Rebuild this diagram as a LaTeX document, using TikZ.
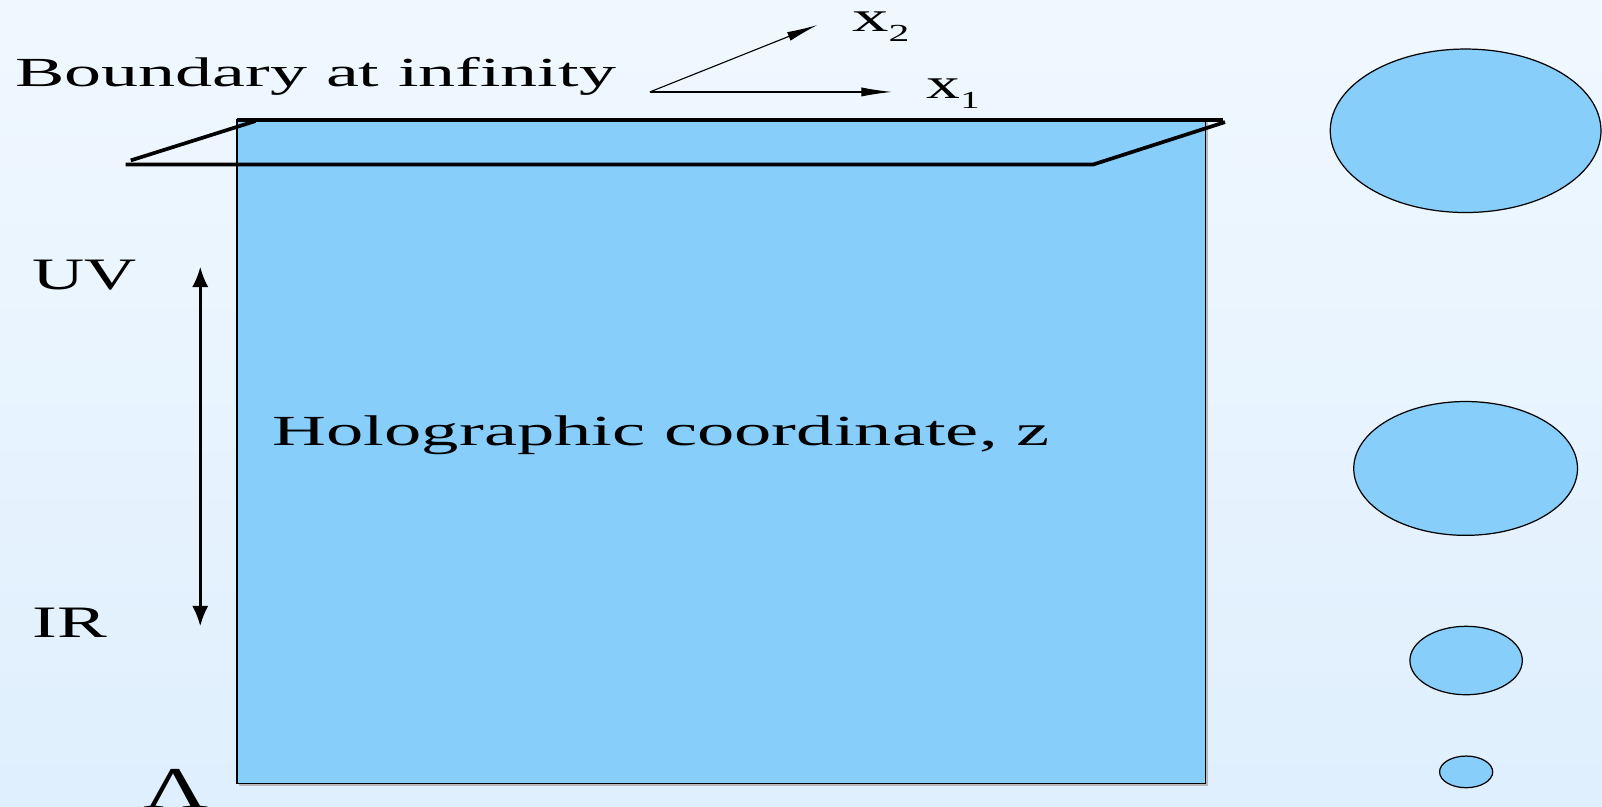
\documentclass[tikz,border=0pt]{standalone}
\usepackage{fontspec}
\setmainfont{Liberation Serif}
\usepackage{graphicx}
\usetikzlibrary{arrows.meta,shapes.geometric}
\definecolor{bgtop}{RGB}{240,248,255}
\definecolor{bgbot}{RGB}{223,239,253}
\definecolor{sky}{RGB}{135,206,250}
\newcommand{\wtext}[3]{\resizebox{#1pt}{\height}{\fontsize{#2}{#2}\selectfont #3}}
\tikzset{
  txt/.style={inner sep=0pt, outer sep=0pt, anchor=base west},
  ell/.style={draw=black, fill=sky, ellipse, inner sep=0pt, line width=1.2pt},
  heavy/.style={line width=3.6pt, line cap=butt},
  axisarrow/.style={-{Latex[length=30pt,width=9pt]}, line width=1.1pt},
  zarrow/.style={{Latex[length=20pt,width=16pt]}-{Latex[length=20pt,width=16pt]}, line width=2.8pt}
}
\begin{document}
\begin{tikzpicture}[x=1pt,y=-1pt]
\useasboundingbox (0,0) rectangle (1568,789);
\clip (0,0) rectangle (1568,789);
\shade[top color=bgtop,bottom color=bgbot] (0,0) rectangle (1568,789);
% bulk
\fill[gray!55] (234,119) rectangle (1182.5,769.5);
\filldraw[fill=sky, draw=black, line width=1.3pt] (232,117) rectangle (1180,767);
% boundary plane
\draw[heavy] (232,117.5) -- (1197,117.5);
\draw[heavy] (128,157) -- (250,118.5);
\draw[heavy] (123,161) -- (1070,161) -- (1199,119.5);
% axes
\coordinate (o) at (636,90);
\coordinate (e1) at (873,90);
\coordinate (e2) at (800,24.5);
\draw[axisarrow] (o) -- (e1);
\draw[axisarrow] (o) -- (e2);
\node[txt] (x2) at (834,31) {\wtext{56}{42}{x\raisebox{-10pt}{\fontsize{24}{24}\selectfont 2}}};
\node[txt] (x1) at (907,96) {\wtext{52}{42}{x\raisebox{-10pt}{\fontsize{24}{24}\selectfont 1}}};
% labels
\node[txt] (bnd) at (15,85) {\wtext{588}{40.5}{Boundary at infinity}};
\node[txt] (holo) at (267,436) {\wtext{760}{42}{Holographic coordinate, z}};
\node[txt] (uv) at (32,283) {\wtext{102}{44}{UV}};
\node[txt] (ir) at (32,624) {\wtext{73}{44}{IR}};
\node[txt] (lam) at (140,791) {\wtext{64}{58}{Λ}};
% UV-IR arrow
\coordinate (up) at (196,261);
\coordinate (dn) at (196,613);
\draw[zarrow] (up) -- (dn);
% ellipses
\node[ell, minimum width=265pt, minimum height=160pt] (el1) at (1434.5,128) {};
\node[ell, minimum width=219pt, minimum height=131pt] (el2) at (1434.5,458.5) {};
\node[ell, minimum width=110pt, minimum height=67pt] (el3) at (1435,646.5) {};
\node[ell, minimum width=52pt, minimum height=31pt] (el4) at (1435,755.5) {};
\end{tikzpicture}
\end{document}
